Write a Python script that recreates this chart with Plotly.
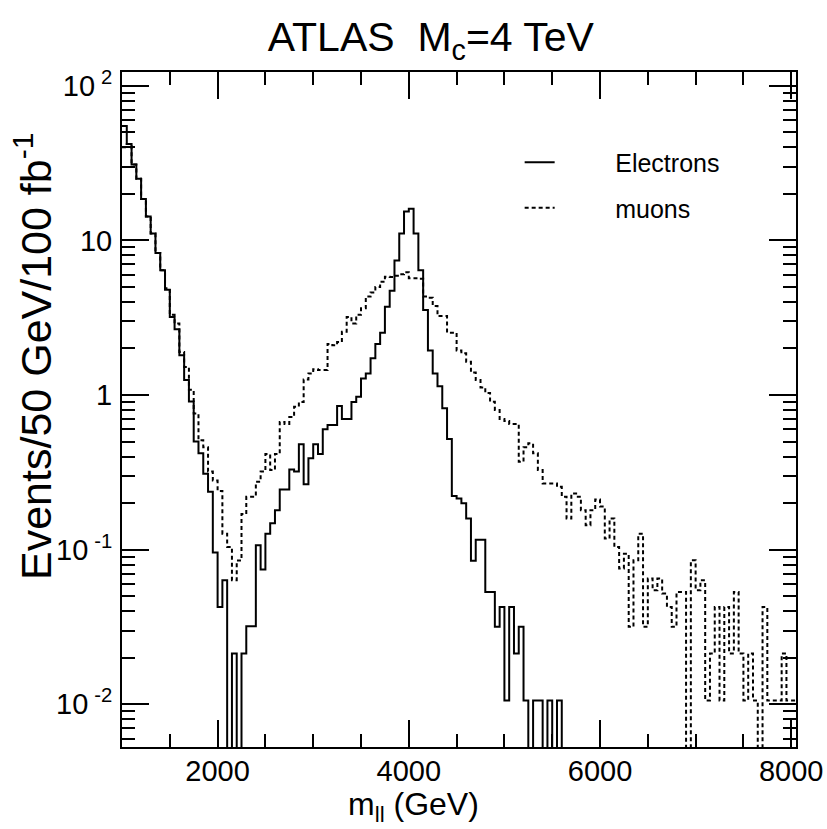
import numpy as np
import plotly.graph_objects as go

# 50 GeV bins from 1000 to 8050 GeV
bin_lo = 1000
bin_width = 50
n_bins = 141

electrons = [55, 42, 31, 25, 18.5, 14.3, 11.1, 8.3, 6.4, 4.8,
             3.2, 2.66, 1.81, 1.25, 0.91, 0.5, 0.42, 0.31, 0.237, 0.096,
             0.0426, 0.0635, 0, 0.0213, 0, 0.0213, 0.032, 0.032, 0.107, 0.0744,
             0.127, 0.148, 0.18, 0.245, 0.245, 0.33, 0.32, 0.48, 0.265, 0.39,
             0.48, 0.415, 0.6, 0.64, 0.64, 0.85, 0.70, 0.70, 0.9, 0.975,
             1.28, 1.38, 1.73, 2.14, 2.53, 3.73, 4.73, 7.4, 11.1, 15.4,
             16.0, 11.1, 6.4, 3.55, 1.94, 1.38, 1.14, 0.82, 0.52, 0.222,
             0.214, 0.20, 0.159, 0.0847, 0.116, 0.116, 0.0533, 0.0533, 0.0317, 0.0426,
             0.0106, 0.0426, 0.0213, 0.0317, 0.0106, 0, 0.0106, 0.0106, 0, 0.0106,
             0, 0.0106] + [0] * 49

muons = [40, 42, 31, 25, 18.5, 14.3, 11.1, 8.3, 6.4, 4.9,
         3.3, 2.9, 1.9, 1.52, 1.08, 0.76, 0.51, 0.46, 0.32, 0.28,
         0.24, 0.127, 0.104, 0.0635, 0.085, 0.17, 0.22, 0.22, 0.275, 0.32,
         0.415, 0.327, 0.415, 0.67, 0.65, 0.72, 0.84, 0.9, 1.26, 1.38,
         1.47, 1.45, 1.45, 2.14, 2.1, 2.2, 2.57, 3.2, 2.9, 3.3,
         3.64, 4.33, 4.6, 5.0, 5.4, 5.83, 5.8, 5.9, 6.04, 6.22,
         5.7, 5.7, 5.65, 4.33, 4.25, 3.77, 3.24, 3.24, 2.53, 2.53,
         1.94, 1.86, 1.64, 1.4, 1.25, 1.12, 1.03, 0.905, 0.8, 0.70,
         0.68, 0.65, 0.65, 0.37, 0.46, 0.487, 0.42, 0.327, 0.268, 0.268,
         0.268, 0.255, 0.22, 0.159, 0.231, 0.22, 0.18, 0.144, 0.18, 0.211,
         0.19, 0.118, 0.159, 0.104, 0.0755, 0.094, 0.0317, 0.0855, 0.127, 0.0317,
         0.065, 0.0547, 0.065, 0.052, 0.0426, 0.0317, 0.0533, 0.0533, 0, 0.0855,
         0.0547, 0.0635, 0.0106, 0.0213, 0.0426, 0.0106, 0.0426, 0.0213, 0.0533, 0.0213,
         0.0106, 0.0213, 0.0106, 0, 0.0426, 0.0106, 0.0106, 0.0106, 0.0213, 0.0106,
         0.0106]

y_tickvals = [0.01, 0.1, 1, 10, 100]
y_ticktext = ["10\u2009<sup>-2</sup>", "10\u2009<sup>-1</sup>", "1", "10", "10\u2009<sup>2</sup>"]
x_tickvals = [2000, 4000, 6000, 8000]
x_ticktext = ["2000", "4000", "6000", "8000"]

edges = bin_lo + bin_width * np.arange(n_bins + 1)
FLOOR = 1e-4  # empty bins drop below the visible axis


def step_xy(vals):
    v = np.array(vals, dtype=float)
    v = np.where(v > 0, v, FLOOR)
    x = edges
    y = np.append(v, v[-1])
    return x, y


FONT = "Liberation Sans, Arial, sans-serif"
NB = "\u00a0" * 8

fig = go.Figure()
xe, ye = step_xy(electrons)
fig.add_trace(go.Scatter(x=xe, y=ye, mode="lines", line_shape="hv",
                         line=dict(color="black", width=2),
                         name=NB + "Electrons", legendgroup="e"))
xm, ym = step_xy(muons)
fig.add_trace(go.Scatter(x=xm, y=ym, mode="lines", line_shape="hv",
                         line=dict(color="black", width=2, dash="4px,3px"),
                         name=NB + "muons", legendgroup="m"))

fig.update_layout(
    width=827, height=829,
    margin=dict(l=122, r=31, t=72, b=82, autoexpand=False),
    paper_bgcolor="white", plot_bgcolor="white",
    font=dict(family=FONT, color="black", size=29),
    showlegend=True,
    legend=dict(x=0.59, y=0.900, xanchor="left", yanchor="top",
                bgcolor="rgba(0,0,0,0)", font=dict(size=25, family=FONT),
                traceorder="grouped", tracegroupgap=10),
    title=dict(text="ATLAS&nbsp;&nbsp;M<sub>c</sub>=4 TeV", x=0.521, xanchor="center",
               y=1 - 37 / 829, yanchor="middle",
               font=dict(size=41, family=FONT, color="black")),
    xaxis=dict(type="linear", range=[1000, 8050], automargin=False,
               tickvals=x_tickvals, ticktext=x_ticktext,
               ticks="inside", ticklen=27, tickwidth=2, tickcolor="black",
               ticklabelstandoff=-3,
               minor=dict(ticks="inside", ticklen=13, tickwidth=2, tickcolor="black",
                          dtick=500, tick0=0),
               showline=True, linewidth=2, linecolor="black", mirror="allticks",
               showgrid=False, zeroline=False,
               tickfont=dict(size=29, family=FONT)),
    yaxis=dict(type="log", range=[-2.276, 2.089], automargin=False,
               tickvals=y_tickvals, ticktext=y_ticktext,
               ticks="inside", ticklen=27, tickwidth=2, tickcolor="black",
               ticklabelstandoff=2,
               minor=dict(ticks="inside", ticklen=13, tickwidth=2, tickcolor="black",
                          tickvals=[m * 10.0 ** k for k in range(-3, 3) for m in range(2, 10)]),
               showline=True, linewidth=2, linecolor="black", mirror="allticks",
               showgrid=False, zeroline=False,
               tickfont=dict(size=29, family=FONT)),
    annotations=[
        dict(text="m<sub>ll</sub> (GeV)", xref="paper", yref="paper",
             x=(413 - 122) / 674, y=(747 - 806) / 675, xanchor="center", yanchor="middle",
             showarrow=False, font=dict(size=32, family=FONT)),
        dict(text="Events/50 GeV/100 fb<sup>-1</sup>", xref="paper", yref="paper",
             x=(33 - 122) / 674, y=(747 - 356) / 675, xanchor="center", yanchor="middle",
             textangle=-90, showarrow=False, font=dict(size=43, family=FONT)),
    ],
)

fig.write_html("out.html", config={"displayModeBar": False},
               post_script="document.body.style.margin='0';")
